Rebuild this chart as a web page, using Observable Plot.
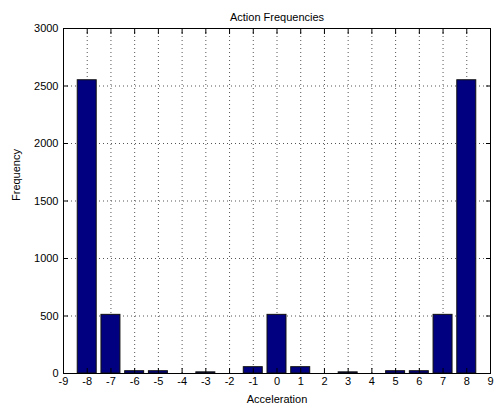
<!DOCTYPE html>
<html><head><meta charset="utf-8">
<script src="https://cdn.jsdelivr.net/npm/d3@7"></script>
<script src="https://cdn.jsdelivr.net/npm/@observablehq/plot@0.6"></script>
<style>body{margin:0;background:#fff}</style>
</head><body><div id="chart"></div>
<script>
const accel = [-8,-7,-6,-5,-4,-3,-2,-1,0,1,2,3,4,5,6,7,8];
const freq = [2550,510,20,20,0,10,0,55,510,55,0,10,0,20,20,510,2550];
const xTicks = d3.range(-9, 10);
const yTicks = [0,500,1000,1500,2000,2500,3000];
const title = "Action Frequencies";
const xLabel = "Acceleration";
const yLabel = "Frequency";
const data = accel.map((a, i) => ({a, f: freq[i]}));

const chart = Plot.plot({
  width: 499, height: 407,
  marginTop: 28, marginRight: 9, marginBottom: 34, marginLeft: 63,
  style: {fontFamily: "'Liberation Sans', Arial, sans-serif", fontSize: "11px", color: "#000", background: "#fff"},
  x: {type: "linear", domain: [-9, 9]},
  y: {domain: [0, 3000]},
  marks: [
    Plot.ruleX(xTicks, {x: d => d, stroke: "#555", strokeDasharray: "1,3"}),
    Plot.ruleY(yTicks, {y: d => d, stroke: "#555", strokeDasharray: "1,3"}),
    Plot.rectY(data, {x1: d => d.a - 0.4, x2: d => d.a + 0.4, y1: 0, y2: "f", fill: "#000080", stroke: "#111", strokeWidth: 1}),
    Plot.frame({stroke: "#000"}),
    Plot.axisX({ticks: xTicks, tickSize: -5, tickPadding: 9, tickFormat: d => String(d), label: null}),
    Plot.axisX({anchor: "top", ticks: xTicks, tickSize: -5, tickFormat: () => "", label: null}),
    Plot.axisY({ticks: yTicks, tickSize: -5, tickPadding: 10, tickFormat: d => String(d), label: null}),
    Plot.axisY({anchor: "right", ticks: yTicks, tickSize: -5, tickFormat: () => "", label: null}),
    Plot.text([title], {frameAnchor: "top", dy: -15, fontSize: 11}),
    Plot.text([xLabel], {frameAnchor: "bottom", dy: 29, fontSize: 11}),
    Plot.text([yLabel], {frameAnchor: "left", dx: -47, rotate: -90, fontSize: 11})
  ]
});
document.getElementById("chart").appendChild(chart);
</script>
</body></html>
